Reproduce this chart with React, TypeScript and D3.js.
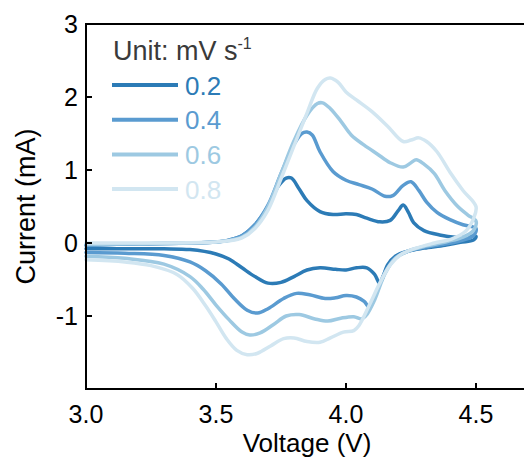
import React from "react";
import * as d3 from "d3";

// Scan rates (mV s^-1) and their colours
const scanRates = ["0.2", "0.4", "0.6", "0.8"];
const rateColors = ["#2c7bb6", "#5a9bd0", "#9dc9e2", "#d2e6f1"];

// Axis ticks
const xTicks = [3.0, 3.5, 4.0, 4.5];
const yTicks = [-1, 0, 1, 2, 3];

// Cyclic voltammograms: [voltage (V), current (mA)], forward sweep then reverse sweep
const cv02: [number, number][] = [
  [3.0, -0.03], [3.2, -0.01], [3.4, 0.0], [3.5, 0.015], [3.55, 0.04], [3.6, 0.1], [3.65, 0.25],
  [3.7, 0.5], [3.74, 0.78], [3.77, 0.89], [3.79, 0.89], [3.82, 0.74], [3.85, 0.58], [3.9, 0.43],
  [3.95, 0.39], [4.0, 0.4], [4.04, 0.39], [4.08, 0.34], [4.13, 0.29], [4.17, 0.31], [4.2, 0.44],
  [4.22, 0.52], [4.24, 0.42], [4.26, 0.28], [4.3, 0.17], [4.36, 0.11], [4.42, 0.08], [4.5, 0.09],
  [4.49, 0.04], [4.44, 0.01], [4.38, -0.03], [4.3, -0.07], [4.24, -0.11], [4.19, -0.18],
  [4.16, -0.3], [4.13, -0.55], [4.11, -0.43], [4.08, -0.34], [4.04, -0.34], [4.0, -0.37],
  [3.96, -0.36], [3.9, -0.34], [3.85, -0.37], [3.8, -0.46], [3.75, -0.54], [3.7, -0.55],
  [3.65, -0.46], [3.6, -0.34], [3.55, -0.22], [3.5, -0.15], [3.4, -0.09], [3.3, -0.08],
  [3.15, -0.08], [3.0, -0.08],
];

const cv04: [number, number][] = [
  [3.0, -0.03], [3.2, -0.01], [3.4, 0.0], [3.5, 0.015], [3.55, 0.04], [3.6, 0.1], [3.65, 0.25],
  [3.7, 0.52], [3.75, 0.95], [3.8, 1.35], [3.83, 1.5], [3.85, 1.52], [3.87, 1.48], [3.9, 1.25],
  [3.95, 0.98], [4.0, 0.86], [4.05, 0.8], [4.1, 0.74], [4.15, 0.64], [4.18, 0.65], [4.22, 0.79],
  [4.25, 0.84], [4.28, 0.72], [4.31, 0.56], [4.35, 0.42], [4.4, 0.32], [4.45, 0.25], [4.5, 0.2],
  [4.49, 0.1], [4.44, 0.03], [4.37, -0.02], [4.3, -0.06], [4.24, -0.11], [4.19, -0.2],
  [4.15, -0.4], [4.11, -0.75], [4.09, -0.88], [4.07, -0.8], [4.04, -0.74], [4.0, -0.72],
  [3.96, -0.75], [3.92, -0.76], [3.86, -0.71], [3.81, -0.69], [3.76, -0.76], [3.7, -0.9],
  [3.66, -0.96], [3.62, -0.92], [3.57, -0.76], [3.52, -0.56], [3.46, -0.38], [3.4, -0.26],
  [3.3, -0.17], [3.15, -0.14], [3.0, -0.13],
];

const cv06: [number, number][] = [
  [3.0, -0.02], [3.2, -0.01], [3.4, 0.0], [3.5, 0.015], [3.55, 0.035], [3.6, 0.08], [3.65, 0.22],
  [3.7, 0.5], [3.75, 0.95], [3.8, 1.4], [3.85, 1.75], [3.89, 1.91], [3.91, 1.92], [3.94, 1.84],
  [3.98, 1.67], [4.02, 1.48], [4.07, 1.34], [4.12, 1.22], [4.17, 1.1], [4.22, 1.04], [4.25, 1.1],
  [4.27, 1.14], [4.3, 1.08], [4.34, 0.95], [4.38, 0.72], [4.43, 0.5], [4.47, 0.38], [4.5, 0.3],
  [4.49, 0.17], [4.45, 0.08], [4.39, 0.02], [4.31, -0.04], [4.24, -0.11], [4.19, -0.21],
  [4.15, -0.42], [4.11, -0.78], [4.08, -0.98], [4.06, -1.04], [4.03, -1.01], [3.98, -1.03],
  [3.93, -1.07], [3.88, -1.04], [3.82, -0.98], [3.77, -1.0], [3.72, -1.12], [3.67, -1.23],
  [3.63, -1.26], [3.6, -1.22], [3.55, -1.05], [3.5, -0.85], [3.45, -0.63], [3.4, -0.46],
  [3.3, -0.29], [3.15, -0.21], [3.0, -0.18],
];

const cv08: [number, number][] = [
  [3.0, 0.0], [3.2, 0.0], [3.4, 0.005], [3.5, 0.015], [3.55, 0.03], [3.6, 0.07], [3.65, 0.2],
  [3.7, 0.45], [3.75, 0.88], [3.8, 1.33], [3.85, 1.78], [3.89, 2.12], [3.92, 2.24], [3.94, 2.26],
  [3.97, 2.2], [4.0, 2.07], [4.04, 1.96], [4.1, 1.8], [4.16, 1.6], [4.22, 1.39], [4.25, 1.41],
  [4.28, 1.44], [4.31, 1.39], [4.35, 1.25], [4.4, 0.97], [4.45, 0.72], [4.5, 0.5],
  [4.49, 0.33], [4.46, 0.16], [4.41, 0.06], [4.34, 0.0], [4.27, -0.07], [4.21, -0.16],
  [4.17, -0.3], [4.13, -0.55], [4.09, -0.85], [4.05, -1.13], [4.03, -1.2], [3.99, -1.22],
  [3.94, -1.3], [3.9, -1.36], [3.85, -1.35], [3.8, -1.3], [3.76, -1.31], [3.71, -1.41],
  [3.66, -1.51], [3.62, -1.53], [3.58, -1.47], [3.54, -1.31], [3.5, -1.08], [3.46, -0.86],
  [3.41, -0.62], [3.35, -0.43], [3.25, -0.31], [3.15, -0.26], [3.0, -0.23],
];

const curves = [cv02, cv04, cv06, cv08];

const W = 524;
const H = 461;
const FONT = "Arial, 'Liberation Sans', sans-serif";

export default function App() {
  const x = d3.scaleLinear().domain([3.0, 4.7]).range([86, 528]);
  const y = d3.scaleLinear().domain([-2, 3]).range([389, 24]);

  const line = d3
    .line<[number, number]>()
    .x((d) => x(d[0]))
    .y((d) => y(d[1]))
    .curve(d3.curveCatmullRom.alpha(0.5));

  const [x0, x1] = x.range();
  const [yb, yt] = y.range();

  return (
    <svg
      width={W}
      height={H}
      style={{ position: "absolute", left: 0, top: 0, background: "#fff" }}
      fontFamily={FONT}
    >
      {/* curves */}
      <g fill="none" strokeLinejoin="round" strokeLinecap="round">
        {curves.map((c, i) => (
          <path key={i} d={line(c) || ""} stroke={rateColors[i]} strokeWidth={3.5} />
        ))}
      </g>

      {/* frame */}
      <rect x={x0} y={yt} width={x1 - x0} height={yb - yt} fill="none" stroke="#000" strokeWidth={2} />

      {/* x ticks */}
      {xTicks.map((t) => (
        <g key={t}>
          {t > 3.0 && <line x1={x(t)} x2={x(t)} y1={yb} y2={yb - 6} stroke="#000" strokeWidth={2} />}
          <text x={x(t)} y={423} fontSize={25} textAnchor="middle" fill="#000">
            {t.toFixed(1)}
          </text>
        </g>
      ))}

      {/* y ticks */}
      {yTicks.map((t) => (
        <g key={t}>
          {t < 3 && <line x1={x0} x2={x0 + 6} y1={y(t)} y2={y(t)} stroke="#000" strokeWidth={2} />}
          <text x={78} y={y(t) + 9} fontSize={25} textAnchor="end" fill="#000">
            {t}
          </text>
        </g>
      ))}

      {/* axis titles */}
      <text x={(x0 + x1) / 2} y={452} fontSize={26} textAnchor="middle" fill="#000">
        Voltage (V)
      </text>
      <text
        transform={`translate(35, ${(yt + yb) / 2}) rotate(-90)`}
        fontSize={27}
        textAnchor="middle"
        fill="#000"
      >
        Current (mA)
      </text>

      {/* legend */}
      <text x={113} y={60} fontSize={27} fill="#3a3a3a">
        Unit: mV s
        <tspan fontSize={16} dy={-11}>
          -1
        </tspan>
      </text>
      {scanRates.map((r, i) => {
        const ly = 85 + i * 34.7;
        return (
          <g key={r}>
            <line x1={112} x2={178} y1={ly} y2={ly} stroke={rateColors[i]} strokeWidth={4} />
            <text x={185} y={ly + 9.5} fontSize={26} fill={rateColors[i]}>
              {r}
            </text>
          </g>
        );
      })}
    </svg>
  );
}
